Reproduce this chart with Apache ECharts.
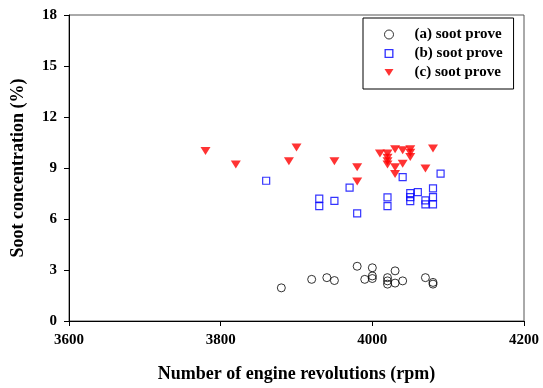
<!DOCTYPE html>
<html><head><meta charset="utf-8">
<script src="https://cdn.jsdelivr.net/npm/echarts@6/dist/echarts.min.js"></script>
<style>html,body{margin:0;padding:0;background:#fff}#c{width:543px;height:388px}</style>
</head><body><div id="c"></div>
<script>
const xTicks = [3600, 3800, 4000, 4200];
const yTicks = [0, 3, 6, 9, 12, 15, 18];
const seriesNames = ['(a) soot prove', '(b) soot prove', '(c) soot prove'];
const sootA = [[3880,1.95],[3920,2.45],[3940,2.55],[3950,2.38],[3980,3.22],[3990,2.45],[4000,3.13],[4000,2.65],[4000,2.5],[4020,2.55],[4020,2.36],[4020,2.17],[4030,2.95],[4030,2.23],[4040,2.36],[4070,2.55],[4080,2.27],[4080,2.17]];
const sootB = [[3860,8.25],[3930,7.2],[3930,6.76],[3950,7.07],[3970,7.85],[3980,6.33],[4020,7.27],[4020,6.76],[4040,8.46],[4050,7.52],[4050,7.29],[4050,7.05],[4060,7.58],[4070,7.09],[4070,6.86],[4080,7.8],[4080,7.29],[4080,6.86],[4090,8.67]];
const sootC = [[3780,10.0],[3820,9.2],[3890,9.4],[3900,10.2],[3950,9.4],[3980,9.05],[3980,8.2],[4010,9.85],[4020,9.85],[4020,9.6],[4020,9.4],[4020,9.2],[4030,10.1],[4030,9.05],[4030,8.65],[4040,10.05],[4040,9.25],[4050,10.1],[4050,9.9],[4050,9.65],[4070,8.97],[4080,10.15]];

const FONT = 'Liberation Serif';
const chart = echarts.init(document.getElementById('c'));
chart.setOption({
  animation: false,
  backgroundColor: '#fff',
  textStyle: {fontFamily: FONT},
  grid: {left: 69, right: 19, top: 15, bottom: 66, show: true, borderColor: '#555', borderWidth: 1},
  legend: {
    orient: 'vertical', left: 363, top: 18,
    padding: [9, 11, 9, 21], itemGap: 4,
    itemWidth: 9, itemHeight: 9,
    borderColor: '#000', borderWidth: 1, backgroundColor: '#fff',
    textStyle: {fontFamily: FONT, fontWeight: 'bold', fontSize: 15, color: '#000', padding: [0,0,0,16]},
    data: [
      {name: seriesNames[0], icon: 'circle', itemStyle: {borderWidth: 1}},
      {name: seriesNames[1], icon: 'path://M0,0 L10,0 L10,10 L0,10 Z M1.5,1.5 L1.5,8.5 L8.5,8.5 L8.5,1.5 Z', itemStyle: {color: '#0000ff', borderWidth: 0}},
      {name: seriesNames[2], icon: 'path://M0,0 L10,0 L5,8 Z'}
    ]
  },
  xAxis: {
    type: 'value', min: xTicks[0], max: xTicks[xTicks.length-1], interval: 200,
    name: 'Number of engine revolutions (rpm)', nameLocation: 'middle', nameGap: 44,
    nameTextStyle: {fontFamily: FONT, fontWeight: 'bold', fontSize: 18, color: '#000'},
    axisLine: {lineStyle: {color: '#000'}},
    axisTick: {length: 5, lineStyle: {color: '#000'}},
    axisLabel: {fontFamily: FONT, fontWeight: 'bold', fontSize: 15, color: '#000', margin: 12,
      formatter: v => String(v)},
    splitLine: {show: false}
  },
  yAxis: {
    type: 'value', min: yTicks[0], max: yTicks[yTicks.length-1], interval: 3,
    name: 'Soot concentration (%)', nameLocation: 'middle', nameGap: 42,
    nameTextStyle: {fontFamily: FONT, fontWeight: 'bold', fontSize: 18, color: '#000'},
    axisLine: {show: true, lineStyle: {color: '#000'}},
    axisTick: {show: true, length: 5, lineStyle: {color: '#000'}},
    axisLabel: {fontFamily: FONT, fontWeight: 'bold', fontSize: 15, color: '#000', margin: 12},
    splitLine: {show: false}
  },
  series: [
    {name: seriesNames[0], type: 'scatter', data: sootA, symbol: 'circle', symbolSize: 8,
     itemStyle: {color: 'rgba(0,0,0,0)', borderColor: '#000', borderWidth: 1}},
    {name: seriesNames[1], type: 'scatter', data: sootB, symbol: 'rect', symbolSize: 7,
     itemStyle: {color: 'rgba(0,0,0,0)', borderColor: '#0000ff', borderWidth: 1.2}},
    {name: seriesNames[2], type: 'scatter', data: sootC, symbol: 'triangle', symbolRotate: 180, symbolSize: [10, 8],
     itemStyle: {color: '#ff0000', borderWidth: 0}}
  ]
});
</script></body></html>
